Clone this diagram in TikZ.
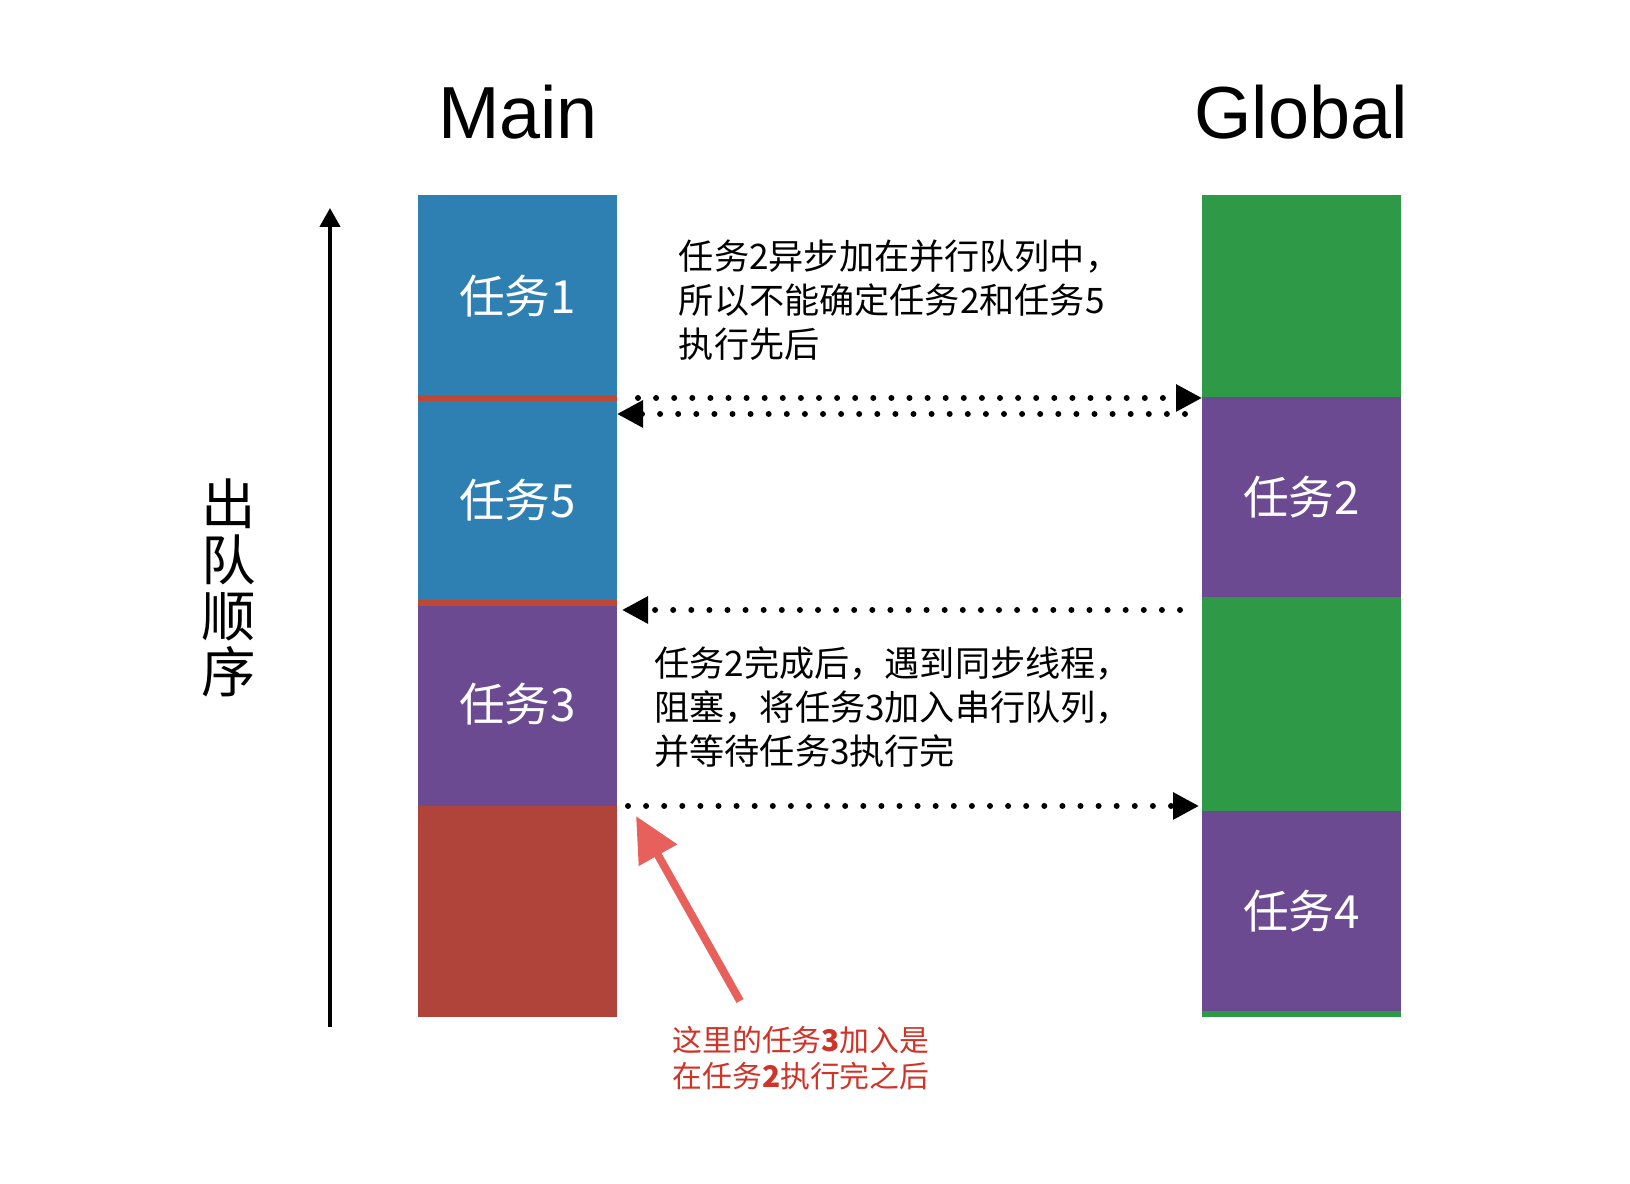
\documentclass[tikz,border=0pt]{standalone}
\usepackage{fontspec}
\setmainfont{Liberation Sans}
\newfontfamily\cjk{Noto Sans CJK SC}
\usepackage{tikz}
\usetikzlibrary{arrows.meta, calc, positioning}
\definecolor{qblue}{RGB}{47,128,178}
\definecolor{qpurple}{RGB}{108,74,146}
\definecolor{qgreen}{RGB}{46,154,72}
\definecolor{qred}{RGB}{176,68,58}
\definecolor{qline}{RGB}{190,72,52}
\definecolor{qnote}{RGB}{208,52,40}
\definecolor{qpen}{RGB}{232,96,92}

\begin{document}
\begin{tikzpicture}[>=Stealth,
  blk/.style={rectangle, inner sep=0pt, outer sep=0pt, minimum width=1.99cm, text=white, font=\cjk\fontsize{13}{15}\selectfont},
  dotarr/.style={line width=1.7pt, line cap=round, dash pattern=on 0pt off 5.15pt, -{Triangle[length=0.26cm, width=0.26cm]}},
  sep/.style={line width=0.06cm, qline}]
  \useasboundingbox (0,0) rectangle (16.30,11.84);

  \node[font=\fontsize{21}{24}\selectfont] (tmain) at (5.18,10.72) {Main};
  \node[font=\fontsize{21}{24}\selectfont] (tglobal) at (13.01,10.72) {Global};

  % main queue
  \node[blk, fill=qblue, minimum height=2.03cm] (m1) at (5.175,8.875) {任务1};
  \node[blk, fill=qblue, minimum height=2.05cm] (m5) at (5.175,6.835) {任务5};
  \node[blk, fill=qpurple, minimum height=2.03cm] (m3) at (5.175,4.795) {任务3};
  \node[blk, fill=qred, minimum height=2.11cm] (m0) at (5.175,2.725) {};
  \draw[sep] (m1.south west) -- (m1.south east);
  \draw[sep] (m5.south west) -- (m5.south east);

  % global queue
  \node[blk, fill=qgreen, minimum height=2.02cm] (g0) at (13.015,8.88) {};
  \node[blk, fill=qpurple, minimum height=2.00cm] (g2) at (13.015,6.87) {任务2};
  \node[blk, fill=qgreen, minimum height=2.14cm] (g1) at (13.015,4.80) {};
  \node[blk, fill=qpurple, minimum height=2.00cm] (g4) at (13.015,2.73) {任务4};
  \node[blk, fill=qgreen, minimum height=0.06cm] (g5) at (13.015,1.70) {};

  % order axis
  \coordinate (ybot) at (3.30,1.57);
  \coordinate (ytop) at (3.30,9.76);
  \draw[line width=1.2pt, -{Triangle[length=0.19cm, width=0.2cm]}] (ybot) -- (ytop);
  \node[font=\cjk\fontsize{15.5}{15.9}\selectfont, align=center] (order) at (2.29,5.96) {出\\队\\顺\\序};

  \node[anchor=west, align=left, font=\cjk\fontsize{10}{12.6}\selectfont] (note1) at (6.665,8.84) {任务2异步加在并行队列中，\\所以不能确定任务2和任务5\\执行先后};
  \node[anchor=west, align=left, font=\cjk\fontsize{10}{12.6}\selectfont] (note2) at (6.42,4.77) {任务2完成后，遇到同步线程，\\阻塞，将任务3加入串行队列，\\并等待任务3执行完};
  \node[anchor=west, align=left, text=qnote, font=\cjk\fontsize{8.5}{10.3}\selectfont] (note3) at (6.60,1.26) {这里的任务{\bfseries 3}加入是\\在任务{\bfseries 2}执行完之后};

  % dotted arrows between queues
  \coordinate (gl1) at (m1.south east -| g2.west);
  \coordinate (gl2) at (m5.south east -| g1.west);
  \coordinate (gl3) at (m3.south east -| g4.west);
  \draw[dotarr] ([xshift=0.21cm]m1.south east) -- (gl1);
  \draw[dotarr] ([xshift=-0.17cm, yshift=-0.16cm]gl1) -- ([yshift=-0.16cm]m1.south east);
  \draw[dotarr] ([xshift=-0.22cm, yshift=-0.07cm]gl2) -- ([xshift=0.05cm, yshift=-0.07cm]m5.south east);
  \draw[dotarr] ([xshift=0.11cm]m3.south east) -- ([xshift=-0.03cm]gl3);

  % pen arrow
  \coordinate (pentail) at (7.40,1.83);
  \coordinate (pentip) at (6.36,3.68);
  \draw[qpen, line width=0.08cm, -{Triangle[length=0.45cm, width=0.42cm]}] (pentail) -- (pentip);
\end{tikzpicture}
\end{document}
